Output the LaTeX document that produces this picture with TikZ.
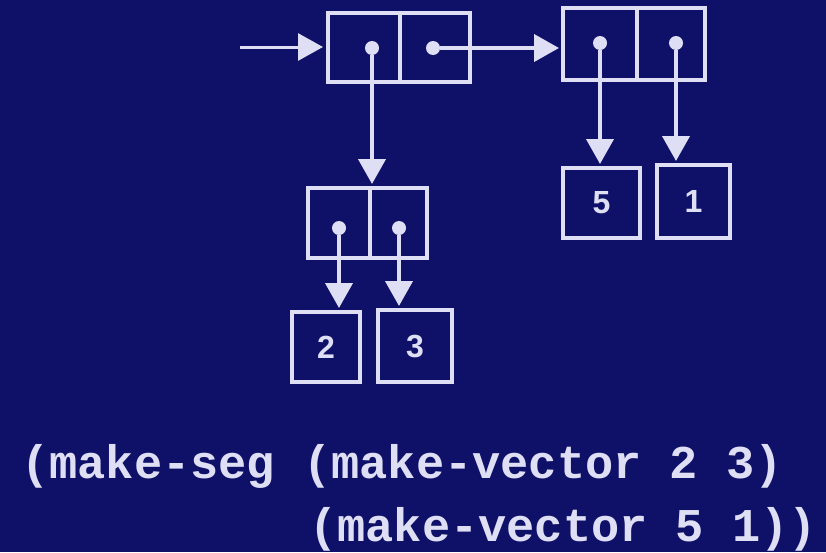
\documentclass[tikz,border=0pt]{standalone}
\usepackage{fontspec}
\setmonofont{Liberation Mono}
\setsansfont{Liberation Sans}
\usetikzlibrary{positioning,arrows.meta}
\definecolor{screen}{RGB}{15,17,104}
\definecolor{chalk}{RGB}{222,222,244}

\begin{document}
\begin{tikzpicture}[x=1pt,y=-1pt,node distance=0pt,
	cell/.style={
		% The shape:
		rectangle,
		% The border:
		draw=chalk, line width=3.5pt,
		outer sep=0pt, inner sep=0pt,
		minimum width=70pt, minimum height=70pt
		},
	val/.style={cell, text=chalk,
		font=\sffamily\bfseries\fontsize{32}{32}\selectfont},
	dot/.style={circle, fill=chalk, inner sep=0pt, minimum size=14pt},
	ptr/.style={-{Triangle[width=27pt,length=25pt]}, draw=chalk,
		line width=4pt, shorten >=4pt},
	code/.style={anchor=base west, text=chalk, inner sep=0pt,
		font=\ttfamily\bfseries\fontsize{47}{56}\selectfont}
	]

	\fill[screen] (0,0) rectangle (826,552);
	\useasboundingbox (0,0) rectangle (826,552);

	% the segment pair
	\node (a1) [cell, minimum width=72pt, minimum height=69pt] at (364,47.5) {};
	\node (a2) [cell, right=of a1, minimum height=69pt] {};
	% the end pair
	\node (b1) [cell, minimum width=74pt, minimum height=72pt] at (600,44) {};
	\node (b2) [cell, right=of b1, minimum width=68pt, minimum height=72pt] {};
	% the start pair
	\node (c1) [cell, minimum width=62pt] at (339,223) {};
	\node (c2) [cell, right=of c1, minimum width=57pt] {};

	% the numbers
	\node (two) [val, minimum width=68pt] at (326,347) {2};
	\node (three) [val, minimum width=74pt, minimum height=72pt] at (415,346) {3};
	\node (five) [val, minimum width=77pt] at (601.5,203) {5};
	\node (one) [val, minimum width=73pt, minimum height=73pt] at (693.5,201.5) {1};

	% the dots
	\node (a1dot) [dot] at (372,48) {};
	\node (a2dot) [dot] at (433,48) {};
	\node (b1dot) [dot] at (600,43) {};
	\node (b2dot) [dot] at (676,43) {};
	\node (c1dot) [dot] at (339,228) {};
	\node (c2dot) [dot] at (399,228) {};
	\coordinate (start) at (240,47);

	\path (start) edge[ptr, line width=3pt, shorten >=5pt] (start -| a1.west); % entry
	\path (a2dot) edge[ptr] (a2dot -| b1.west);
	\path (a1dot) edge[ptr] (a1dot |- c1.north);
	\path (c1dot) edge[ptr] (c1dot |- two.north);
	\path (c2dot) edge[ptr] (c2dot |- three.north);
	\path (b1dot) edge[ptr] (b1dot |- five.north);
	\path (b2dot) edge[ptr] (b2dot |- one.north);

	% the expression
	\node (line1) [code] at (21,478) {(make-seg (make-vector 2 3)};
	\node (line2) [code] at (309,541) {(make-vector 5 1))};

\end{tikzpicture}
\end{document}
